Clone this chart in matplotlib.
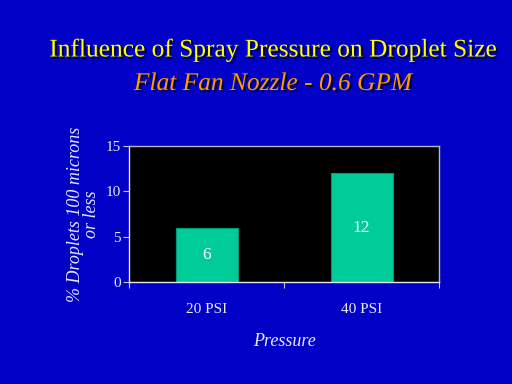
import matplotlib
matplotlib.use("Agg")
import matplotlib.pyplot as plt
import matplotlib.patheffects as pe

# data
pressures = ["20 PSI", "40 PSI"]
droplets = [6, 12]
yticks = [0, 5, 10, 15]

bg = "#0000C6"
txt = "#E8E8FF"

plt.rcParams["font.family"] = ["Liberation Serif", "DejaVu Serif"]

fig = plt.figure(figsize=(5.12, 3.84), dpi=100, facecolor=bg)
ax = fig.add_axes([129 / 512, 1 - 282 / 384, 310 / 512, 136 / 384])
ax.set_facecolor("black")

x = range(len(pressures))
bars = ax.bar(x, droplets, width=0.4, color="#00CC99", edgecolor="#009970", linewidth=0.8)
for b, v in zip(bars, droplets):
    ax.text(b.get_x() + b.get_width() / 2, v / 2, str(v), ha="center", va="center",
            color="white", fontsize=12.5)

ax.set_xlim(-0.5, len(pressures) - 0.5)
ax.set_ylim(0, 15)
ax.set_yticks(yticks)
ax.set_xticks([-0.5, 0.5, 1.5])
ax.set_xticklabels([])
ax.set_xticks(list(x), minor=True)
ax.set_xticklabels(pressures, minor=True)
ax.tick_params(axis="x", which="minor", length=0, pad=15, labelsize=11, labelcolor=txt)
ax.tick_params(axis="x", which="major", length=4, color="#C8C8E0", direction="out")
ax.tick_params(axis="y", length=4, color="#C8C8E0", labelsize=11, labelcolor=txt, pad=2)
for s in ax.spines.values():
    s.set_color("#B8B8C8")
    s.set_linewidth(1)
ax.spines["left"].set_color("#E8E8F0")
ax.spines["bottom"].set_color("#E8E8F0")

ax.set_xlabel("Pressure", fontsize=13, style="italic", color=txt, labelpad=12)
ax.set_ylabel("% Droplets 100 microns\nor less", fontsize=13, style="italic", color=txt,
              labelpad=4, linespacing=0.95)

shadow = [pe.SimplePatchShadow(offset=(1.5, -1.5), shadow_rgbFace="#000030", alpha=0.9), pe.Normal()]
fig.text(273 / 512, 1 - 50 / 384, "Influence of Spray Pressure on Droplet Size",
         ha="center", va="center", fontsize=18.3, color="#FFFF00", path_effects=shadow)
fig.text(273 / 512, 1 - 84 / 384, "Flat Fan Nozzle - 0.6 GPM", ha="center", va="center",
         fontsize=18.3, style="italic", color="#FF9900", path_effects=shadow)

fig.savefig("out.png", dpi=100, facecolor=bg)
